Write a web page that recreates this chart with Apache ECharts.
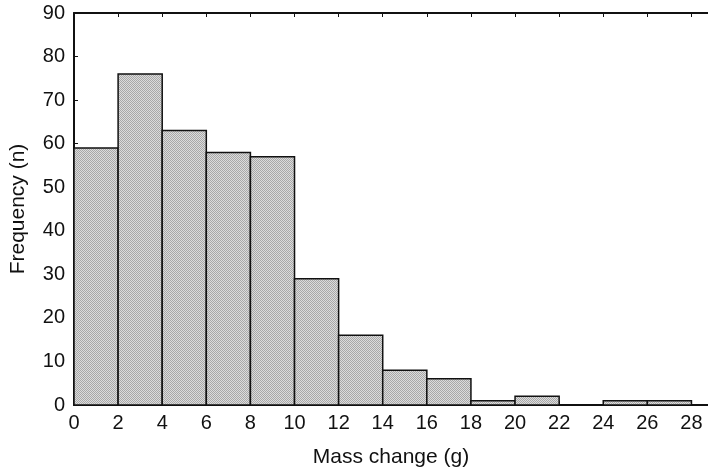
<!DOCTYPE html>
<html>
<head>
<meta charset="utf-8">
<script src="https://cdn.jsdelivr.net/npm/echarts@6/dist/echarts.min.js"></script>
<style>
  html, body { margin: 0; padding: 0; background: #fff; }
  #chart { width: 708px; height: 475px; }
</style>
</head>
<body>
<div id="chart"></div>
<script>
// histogram bins (g) and counts
const binStarts = [0, 2, 4, 6, 8, 10, 12, 14, 16, 18, 20, 22, 24, 26];
const binWidth = 2;
const counts = [59, 76, 63, 58, 57, 29, 16, 8, 6, 1, 2, 0, 1, 1];

// small checker pattern for the bar fill
const pat = document.createElement('canvas');
pat.width = 2; pat.height = 2;
const pctx = pat.getContext('2d');
pctx.fillStyle = '#dcdcdc'; pctx.fillRect(0, 0, 2, 2);
pctx.fillStyle = '#a8a8a8'; pctx.fillRect(0, 0, 1, 1); pctx.fillRect(1, 1, 1, 1);

const data = binStarts.map((s, i) => [s, s + binWidth, counts[i]]);

const font = 'Liberation Sans, Arial, sans-serif';
var myChart = echarts.init(document.getElementById('chart'), null, { renderer: 'canvas' });

// the frame runs off the right edge of the picture
const xMax = 28.75;

var option = {
    animation: false,
    grid: { left: 72, top: 13, right: 0, height: 392 },
    xAxis: [{
        type: 'value', min: 0, max: xMax, interval: 2, position: 'bottom',
        name: 'Mass change (g)', nameLocation: 'middle', nameGap: 42,
        nameTextStyle: { fontFamily: font, fontSize: 21, color: '#111' },
        axisLine: { lineStyle: { color: '#111', width: 2 } },
        axisTick: { inside: true, length: 4, lineStyle: { color: '#111' } },
        axisLabel: { fontFamily: font, fontSize: 20, color: '#111', margin: 8,
            showMaxLabel: false, formatter: v => v <= 28 ? v : '' },
        splitLine: { show: false }
    }, {
        type: 'value', min: 0, max: xMax, interval: 2, position: 'top',
        axisLine: { show: true, lineStyle: { color: '#111', width: 2 } },
        axisTick: { inside: true, length: 4, lineStyle: { color: '#111' } },
        axisLabel: { show: false },
        splitLine: { show: false }
    }],
    yAxis: {
        type: 'value', min: 0, max: 90, interval: 10,
        name: 'Frequency (n)', nameLocation: 'middle', nameGap: 45,
        nameTextStyle: { fontFamily: font, fontSize: 21, color: '#111' },
        axisLine: { show: true, lineStyle: { color: '#111', width: 2 } },
        axisTick: { show: true, inside: true, length: 4, lineStyle: { color: '#111' } },
        axisLabel: { fontFamily: font, fontSize: 20, color: '#111', margin: 9 },
        splitLine: { show: false }
    },
    series: [{
        type: 'custom',
        data: data,
        renderItem: function (params, api) {
            const p0 = api.coord([api.value(0), 0]);
            const p1 = api.coord([api.value(1), api.value(2)]);
            return {
                type: 'rect',
                shape: { x: p0[0], y: p1[1], width: p1[0] - p0[0], height: p0[1] - p1[1] },
                style: { fill: { image: pat, repeat: 'repeat' }, stroke: '#111', lineWidth: 1.5 }
            };
        },
        encode: { x: [0, 1], y: 2 }
    }]
};

myChart.setOption(option);
</script>
</body>
</html>
